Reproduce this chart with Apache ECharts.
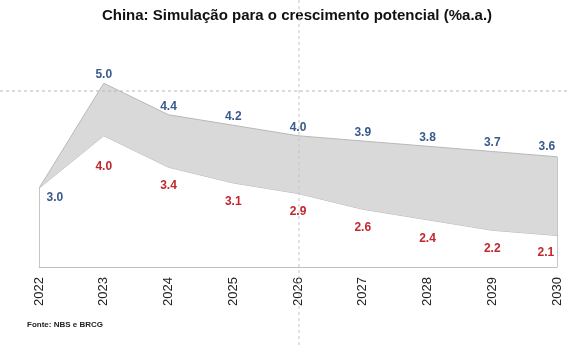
<!DOCTYPE html>
<html>
<head>
<meta charset="utf-8">
<script src="https://cdn.jsdelivr.net/npm/echarts@6/dist/echarts.min.js"></script>
<style>html,body{margin:0;padding:0;background:#fff}#c{width:569px;height:346px}</style>
</head>
<body>
<div id="c"></div>
<script>
var years = ['2022','2023','2024','2025','2026','2027','2028','2029','2030'];
var upper = [3.0, 5.0, 4.4, 4.2, 4.0, 3.9, 3.8, 3.7, 3.6];
var lower = [3.0, 4.0, 3.4, 3.1, 2.9, 2.6, 2.4, 2.2, 2.1];
var yMin = 1.5, yMax = 5.5;

var chart = echarts.init(document.getElementById('c'), null, {renderer:'canvas'});
var last = years.length - 1;

var bandData = upper.map(function(v, i){
  var d = {value: +(v - lower[i]).toFixed(4)};
  if (i === 0) d.label = {position: [8, 4]};
  if (i === last) d.label = {position: [-18, -16]};
  return d;
});
var lowerData = lower.map(function(v, i){
  var d = {value: v};
  if (i === 0) d.label = {show: false};
  if (i === 1) d.label = {distance: 24};
  if (i === last) d.label = {position: [-19, 12]};
  return d;
});

var edge = {color:'#c6c6c6', width:1, type:'solid'};
var hidden = {color:'rgba(255,255,255,0)', borderWidth:0};
chart.setOption({
  animation: false,
  title: {
    text: 'China: Simulação para o crescimento potencial (%a.a.)',
    left: 292, top: 3, textAlign: 'center',
    textStyle: {fontFamily:'Liberation Sans', fontSize:15, fontWeight:'bold', color:'#111'}
  },
  grid: {left: 39, right: 12, top: 57, bottom: 79, containLabel: false},
  xAxis: {
    type: 'category', data: years, boundaryGap: false,
    axisLine: {lineStyle: {color:'#c0c0c0'}},
    axisTick: {show: false},
    axisLabel: {rotate: 90, margin: 10, color:'#222', fontFamily:'Liberation Sans', fontSize:13, interval: 0},
    splitLine: {show: false}
  },
  yAxis: {type:'value', min: yMin, max: yMax, show: false, splitLine:{show:false}},
  series: [
    {
      name: 'lower', type: 'line', data: lowerData, stack: 'total',
      symbol: 'circle', symbolSize: 1, showSymbol: true, itemStyle: hidden,
      lineStyle: {color:'#b8b8b8', width:1},
      areaStyle: {color:'#ffffff', opacity:1, origin:'start'},
      label: {show: true, position:'bottom', distance: 12, color:'#c0282d', fontWeight:'bold', fontSize:12, fontFamily:'Liberation Sans',
        formatter: function(p){ return lower[p.dataIndex].toFixed(1); }},
      labelLayout: {hideOverlap: false},
      markLine: {
        silent: true, symbol: 'none', label: {show:false}, lineStyle: edge,
        data: [
          [{coord:[years[0], yMin]}, {coord:[years[0], lower[0]]}],
          [{coord:[years[last], yMin]}, {coord:[years[last], upper[last]]}]
        ]
      },
      z: 2
    },
    {
      name: 'upper', type: 'line', data: bandData, stack: 'total',
      symbol: 'circle', symbolSize: 1, showSymbol: true, itemStyle: hidden,
      lineStyle: {color:'#b8b8b8', width:1},
      areaStyle: {color:'#d9d9d9', opacity:1},
      label: {show: true, position:'top', distance: 2, color:'#3a5a8c', fontWeight:'bold', fontSize:12, fontFamily:'Liberation Sans',
        formatter: function(p){ return upper[p.dataIndex].toFixed(1); }},
      labelLayout: {hideOverlap: false},
      z: 3
    }
  ],
  graphic: [
    {type:'line', shape:{x1:0, y1:91, x2:569, y2:91}, style:{stroke:'#b5b5b5', lineWidth:1, lineDash:[3,3]}, z:100},
    {type:'line', shape:{x1:299, y1:0, x2:299, y2:346}, style:{stroke:'#c5c5c5', lineWidth:1, lineDash:[3,3]}, z:100},
    {type:'text', left: 27, top: 321, style:{text:'Fonte: NBS e BRCG', font:'bold 8px "Liberation Sans"', fill:'#222'}, z:100}
  ]
});
</script>
</body>
</html>
